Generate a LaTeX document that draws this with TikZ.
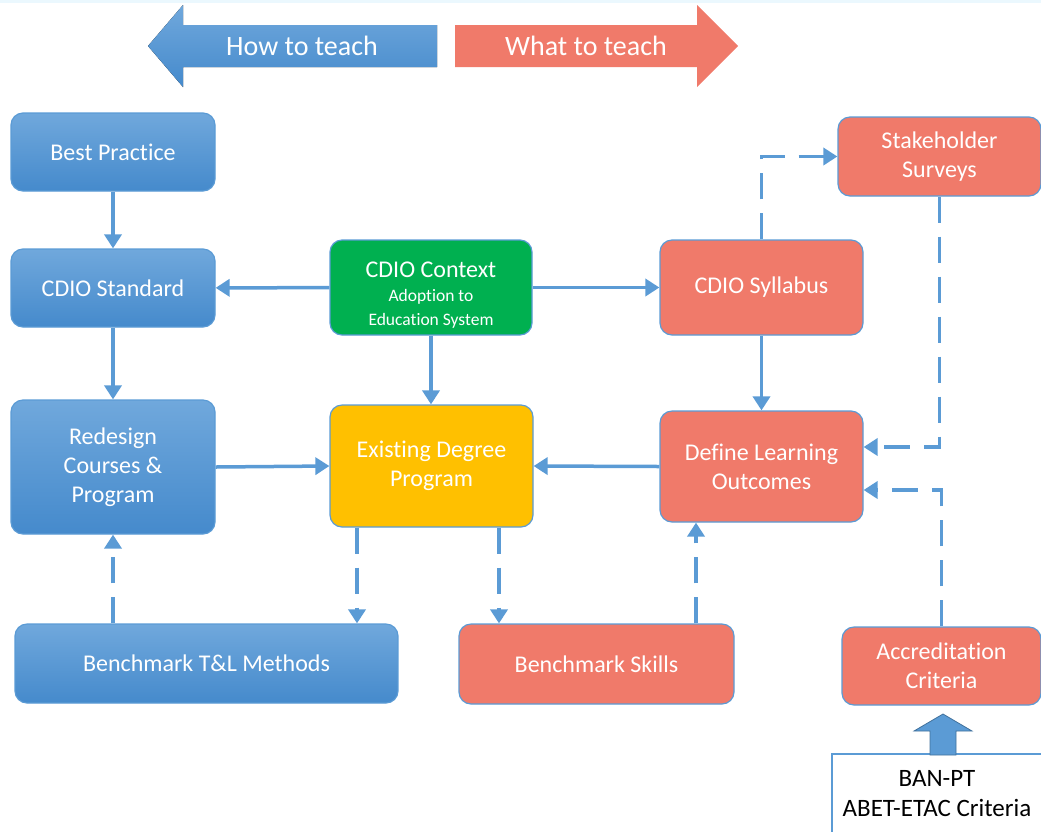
\documentclass[tikz,border=0pt]{standalone}
\usepackage{fontspec}
\setmainfont{Carlito}[Ligatures=NoCommon]
\usetikzlibrary{arrows.meta}

\definecolor{lineblue}{RGB}{91,155,213}
\definecolor{boxtop}{RGB}{112,168,220}
\definecolor{boxbottom}{RGB}{69,138,204}
\definecolor{salmon}{RGB}{240,122,106}
\definecolor{ctxgreen}{RGB}{0,176,80}
\definecolor{degyellow}{RGB}{255,192,0}
\definecolor{arrowedge}{RGB}{65,113,156}

\tikzstyle{box} = [rectangle, rounded corners=12pt, draw=lineblue, line width=1.2pt, text=white, align=center, font=\fontsize{24}{29}\selectfont]
\tikzstyle{howbox} = [box, top color=boxtop, bottom color=boxbottom]
\tikzstyle{whatbox} = [box, fill=salmon]
\tikzstyle{arrow} = [line width=3.5pt, draw=lineblue, -{Triangle[length=14pt,width=17pt]}]
\tikzstyle{dasharrow} = [arrow, dash pattern=on 26pt off 14pt]

\begin{document}
\begin{tikzpicture}[x=1pt, y=-1pt]
        \useasboundingbox (0,0) rectangle (1041,831);
        \fill[cyan!8] (0,0) rectangle (1041,3);

        % Banner arrows
        \fill[top color=boxtop, bottom color=boxbottom] (148,46) -- (183,5) -- (183,25) -- (437,25) -- (437,67) -- (183,67) -- (183,87) -- cycle;
        \fill[salmon] (738,46) -- (697,5) -- (697,25) -- (455,25) -- (455,67) -- (697,67) -- (697,87) -- cycle;
        \node (how) [text=white, font=\fontsize{28}{30}\selectfont] at (302,46) {How to teach};
        \node (what) [text=white, font=\fontsize{28}{30}\selectfont] at (586,46) {What to teach};

        % Nodes
        \node (best) [howbox, minimum width=204pt, minimum height=78pt] at (113,152) {Best Practice};
        \node (std) [howbox, minimum width=204pt, minimum height=78pt] at (113,288) {CDIO Standard};
        \node (redesign) [howbox, minimum width=204pt, minimum height=134pt] at (113,467) {Redesign\\Courses \&\\Program};
        \node (tlmethods) [howbox, minimum width=383pt, minimum height=79pt] at (206.5,663.5) {Benchmark T\&L Methods};
        \node (context) [box, fill=ctxgreen, minimum width=202pt, minimum height=95pt, font=\fontsize{24}{24}\selectfont] at (431,287.5) {\rule{0pt}{30pt}CDIO Context\\{\fontsize{17.5}{21}\selectfont Adoption to}\\{\fontsize{17.5}{19}\selectfont Education System}};
        \node (degree) [box, fill=degyellow, minimum width=203pt, minimum height=122pt] at (431.5,466) {Existing Degree\\Program};
        \node (syllabus) [whatbox, minimum width=203pt, minimum height=95pt] at (761.5,287.5) {CDIO Syllabus};
        \node (surveys) [whatbox, minimum width=203pt, minimum height=79pt] at (939.5,156.5) {Stakeholder\\Surveys};
        \node (outcomes) [whatbox, minimum width=203pt, minimum height=111pt] at (761.5,466.5) {Define Learning\\Outcomes};
        \node (skills) [whatbox, minimum width=275pt, minimum height=80pt] at (596.5,664) {Benchmark Skills};
        \node (accred) [whatbox, minimum width=199pt, minimum height=78pt] at (941.5,666) {Accreditation\\Criteria};
        \node (banpt) [rectangle, draw=lineblue, line width=1.6pt, fill=white, align=center, minimum width=210pt, minimum height=80pt, font=\fontsize{25}{30}\selectfont] at (937,794) {BAN-PT\\ABET-ETAC Criteria};

        % Block arrow into accreditation
        \filldraw[fill=lineblue, draw=arrowedge, line width=0.8pt] (930,755) -- (930,731) -- (914,731) -- (943,714) -- (972,731) -- (956,731) -- (956,755) -- cycle;

        % Arrows
        \draw [arrow] (best) -- (std);
        \draw [arrow] (context) -- (std);
        \draw [arrow] (context) -- (syllabus);
        \draw [arrow] (std) -- (redesign);
        \draw [arrow] (context.south) -- (context.south |- degree.north);
        \draw [arrow] (redesign.east) -- (degree.west);
        \draw [arrow] (outcomes.west) -- (degree.east);
        \draw [arrow] (syllabus) -- (outcomes);

        % Dashed arrows
        \draw [dasharrow] (syllabus.north) |- (surveys.west);
        \draw [dasharrow] (surveys.south) |- ([yshift=19.5pt]outcomes.east);
        \draw [dasharrow] (accred.north) |- ([yshift=-23.5pt]outcomes.east);
        \draw [dasharrow] (redesign.south |- tlmethods.north) -- (redesign.south);
        \draw [dasharrow] ([xshift=-74.5pt]degree.south) -- ([xshift=-74.5pt]degree.south |- tlmethods.north);
        \draw [dasharrow] ([xshift=67.5pt]degree.south) -- ([xshift=67.5pt]degree.south |- skills.north);
        \draw [dasharrow] ([xshift=-65.5pt]outcomes.south |- skills.north) -- ([xshift=-65.5pt]outcomes.south);
    \end{tikzpicture}
\end{document}
